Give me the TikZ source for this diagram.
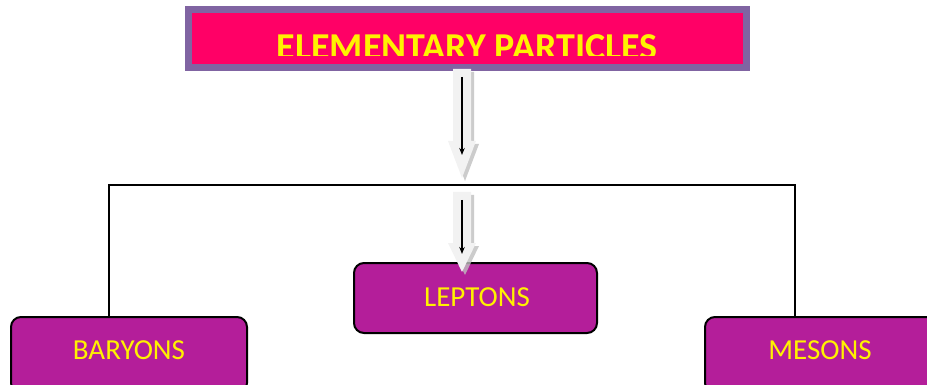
\documentclass[tikz,border=0pt]{standalone}
\usepackage{fontspec}
\setmainfont{Carlito}
\usetikzlibrary{arrows.meta}
\definecolor{titlepink}{HTML}{FF0066}
\definecolor{titlerim}{HTML}{8064A2}
\definecolor{groupfill}{HTML}{B41E9A}
\definecolor{arrowbody}{HTML}{F2F2F2}
\definecolor{arrowshade}{HTML}{BFBFBF}
\tikzset{
  titlebox/.style={draw=titlerim, line width=7pt, fill=titlepink,
    minimum width=558pt, minimum height=58pt, inner sep=0pt},
  titletext/.style={text=yellow, font=\fontsize{38}{41}\selectfont\bfseries, inner sep=0pt},
  groupbox/.style={draw=black, line width=2pt, fill=groupfill, rounded corners=10pt,
    inner sep=0pt},
  grouptext/.style={text=yellow, font=\fontsize{29}{32}\selectfont, inner sep=0pt},
  bus/.style={draw=black, line width=2pt},
  pointer/.style={draw=black, line width=1.2pt, -{Stealth[length=7pt,width=5.5pt]}},
}
% hollow block arrow centred on x=462: shaft from y=#1 to #2, tip at #3
\newcommand{\blockarrow}[3]{%
  \fill[arrowshade, opacity=0.8] (456,#1+3) -- (474,#1+3) -- (474,#2+3) -- (479,#2+3)
     -- (465,#3+3) -- (451,#2+3) -- (456,#2+3) -- cycle;
  \fill[arrowbody] (453,#1) -- (471,#1) -- (471,#2) -- (476,#2)
     -- (462,#3) -- (448,#2) -- (453,#2) -- cycle;
}
\begin{document}
\begin{tikzpicture}[x=1pt,y=-1pt]
  \useasboundingbox (0,0) rectangle (927,385);
  \clip (0,0) rectangle (927,385);

  % heading
  \node[titlebox] (title) at (467,38.5) {};
  \begin{scope}
    \clip (184,13) rectangle (749,55.5);
    \node[titletext, anchor=base] (titlelabel) at (467,59.5) {ELEMENTARY PARTICLES};
  \end{scope}

  % particle groups
  \node[groupbox, minimum width=236pt, minimum height=76pt] (baryons) at (129,355) {};
  \node[grouptext, anchor=base] (baryonslabel) at (129,359.5) {BARYONS};
  \node[groupbox, minimum width=243pt, minimum height=70pt] (leptons) at (475.5,298) {};
  \node[grouptext, anchor=base] (leptonslabel) at (477,306.5) {LEPTONS};
  \node[groupbox, minimum width=232pt, minimum height=76pt] (mesons) at (821,355) {};
  \node[grouptext, anchor=base] (mesonslabel) at (820,359.5) {MESONS};

  % branch line
  \coordinate (busL) at (109,185.5);
  \coordinate (busR) at (795,185.5);
  \draw[bus] (baryons.north -| busL) -- (busL) -- (busR) -- (mesons.north -| busR);

  % downward block arrows with inner pointers
  \blockarrow{69}{141}{178}
  \coordinate (p1s) at (462,77);
  \coordinate (p1e) at (462,155);
  \draw[pointer] (p1s) -- (p1e);

  \blockarrow{192}{243}{272}
  \coordinate (p2s) at (462,200);
  \coordinate (p2e) at (462,254);
  \draw[pointer] (p2s) -- (p2e);
\end{tikzpicture}
\end{document}
